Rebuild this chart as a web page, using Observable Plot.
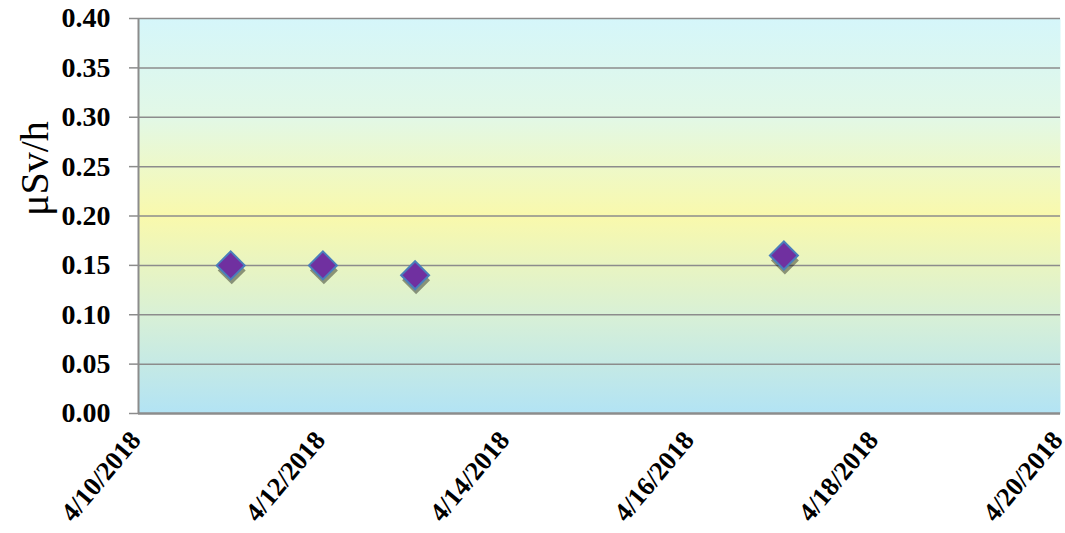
<!DOCTYPE html>
<html>
<head>
<meta charset="utf-8">
<script src="https://cdn.jsdelivr.net/npm/d3@7"></script>
<script src="https://cdn.jsdelivr.net/npm/@observablehq/plot@0.6"></script>
<style>
  html, body { margin: 0; padding: 0; background: #fff; }
  #chart svg { display: block; }
</style>
</head>
<body>
<div id="chart"></div>
<script>
// Data
const dates = ["2018-04-11", "2018-04-12", "2018-04-13", "2018-04-17"];
const values = [0.15, 0.15, 0.14, 0.16];
const xTickDates = ["2018-04-10", "2018-04-12", "2018-04-14", "2018-04-16", "2018-04-18", "2018-04-20"];
const yTicks = [0, 0.05, 0.10, 0.15, 0.20, 0.25, 0.30, 0.35, 0.40];
const yLabel = "μSv/h";

const parse = d3.utcParse("%Y-%m-%d");
const data = dates.map((d, i) => ({date: parse(d), value: values[i]}));
const xTicks = xTickDates.map(parse);
const fmtDate = d => `${d.getUTCMonth() + 1}/${d.getUTCDate()}/${d.getUTCFullYear()}`;

const font = "'Liberation Serif', 'Times New Roman', serif";

const chart = Plot.plot({
  width: 1065,
  height: 533,
  marginLeft: 138,
  marginRight: 5,
  marginTop: 18,
  marginBottom: 120,
  style: {fontFamily: font, background: "#fff", overflow: "visible"},
  x: {type: "utc", domain: [xTicks[0], xTicks[xTicks.length - 1]]},
  y: {domain: [0, 0.40]},
  marks: [
    Plot.frame({fill: "url(#bgGrad)", stroke: "none"}),
    Plot.ruleY(yTicks.filter(d => d > 0), {stroke: "#8c8c8c", strokeWidth: 1.5}),
    Plot.axisY({
      ticks: yTicks, tickFormat: d => d.toFixed(2), tickSize: 9, tickPadding: 19,
      fontSize: 28, fontWeight: "bold", stroke: "#8c8c8c", strokeWidth: 1.5,
      label: null, color: "#000"
    }),
    Plot.axisX({
      ticks: xTicks, tickFormat: fmtDate, tickSize: 0, tickRotate: -50, tickPadding: 22,
      fontSize: 26.5, fontWeight: "bold", label: null, dx: -3
    }),
    Plot.ruleX([xTicks[0]], {stroke: "#8c8c8c", strokeWidth: 2}),
    Plot.ruleY([0], {stroke: "#8c8c8c", strokeWidth: 2.5}),
    Plot.text([yLabel], {frameAnchor: "left", dx: -103, dy: 0, rotate: -90, fontSize: 40, fontFamily: font, fill: "#000"}),
    Plot.dot(data, {x: "date", y: "value", symbol: "diamond2", r: 12.6, fill: "#000", fillOpacity: 0.4, stroke: "none", dx: 1, dy: 5, ariaLabel: "shadow"}),
    Plot.dot(data, {x: "date", y: "value", symbol: "diamond2", r: 12.6, fill: "#7030a0", stroke: "#4a7ebb", strokeWidth: 2})
  ]
});

const svg = d3.select(chart);
const defs = svg.insert("defs", ":first-child");
const grad = defs.append("linearGradient").attr("id", "bgGrad").attr("x1", 0).attr("y1", 0).attr("x2", 0).attr("y2", 1);
grad.append("stop").attr("offset", "0%").attr("stop-color", "#d5f6fa");
grad.append("stop").attr("offset", "25%").attr("stop-color", "#e2f8e6");
grad.append("stop").attr("offset", "50%").attr("stop-color", "#f9f9ac");
grad.append("stop").attr("offset", "75%").attr("stop-color", "#d8f0d6");
grad.append("stop").attr("offset", "100%").attr("stop-color", "#b2e3f4");
const filt = defs.append("filter").attr("id", "blur").attr("x", "-50%").attr("y", "-50%").attr("width", "200%").attr("height", "200%");
filt.append("feGaussianBlur").attr("stdDeviation", 3);
svg.selectAll("g[aria-label='shadow']").attr("filter", "url(#blur)");

document.getElementById("chart").appendChild(chart);
</script>
</body>
</html>
